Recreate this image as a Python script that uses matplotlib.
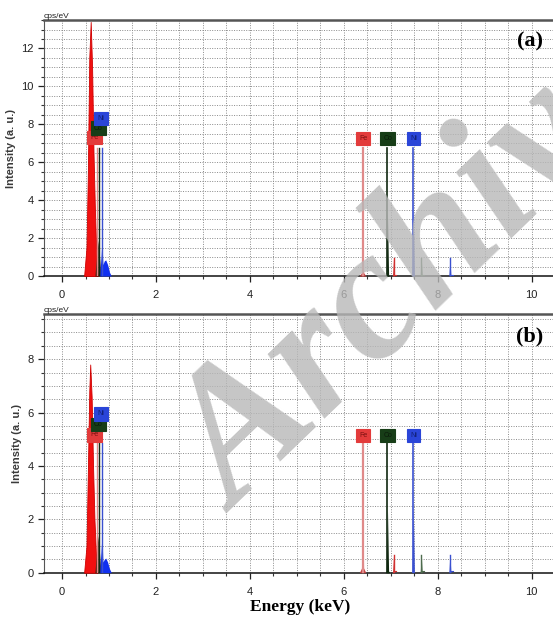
import numpy as np
import matplotlib.pyplot as plt
from matplotlib.ticker import MultipleLocator

# ---- data ----
elements = ["Fe", "Co", "Ni"]
box_colors = ["#e33b3b", "#173d17", "#2a45d8"]
line_colors = ["#e08a8a", "#102810", "#3a50d0"]
text_colors = ["#7a1010", "#0a1a0a", "#101e70"]

# L-line markers (keV) and K-line markers (keV)
l_marker_e = [0.74, 0.79, 0.845]
l_box_e = [0.69, 0.77, 0.83]
k_marker_e = [6.40, 6.93, 7.48]
k_box_e = [6.41, 6.94, 7.49]

# panel (a)
a_fe_l_e = [0.47, 0.52, 0.55, 0.58, 0.61, 0.64, 0.67, 0.70, 0.73, 0.76]
a_fe_l_i = [0.0, 1.5, 5.5, 11.5, 13.4, 11.0, 6.5, 3.5, 1.2, 0.0]
a_co_l_e = [0.70, 0.74, 0.77, 0.80, 0.83]
a_co_l_i = [0.0, 1.2, 1.9, 1.0, 0.0]
a_ni_l_e = [0.80, 0.83, 0.85, 0.87, 0.90, 0.93, 0.97, 1.01, 1.05]
a_ni_l_i = [0.0, 1.0, 1.9, 0.6, 0.8, 0.85, 0.6, 0.2, 0.0]
a_ka_h = [3.3, 3.3, 3.3]
a_kb_e = [7.06, 7.65, 8.26]
a_kb_h = [0.96, 0.96, 0.96]
a_l_box_y = [7.3, 7.8, 8.3]
a_k_box_y = 7.25
a_marker_top = 6.75

# panel (b)
b_fe_l_e = [0.47, 0.52, 0.55, 0.58, 0.60, 0.63, 0.66, 0.69, 0.72, 0.75]
b_fe_l_i = [0.0, 1.0, 3.8, 6.8, 7.8, 6.6, 4.0, 2.0, 0.8, 0.0]
b_co_l_e = [0.70, 0.74, 0.77, 0.80, 0.83]
b_co_l_i = [0.0, 0.9, 1.4, 0.7, 0.0]
b_ni_l_e = [0.80, 0.83, 0.85, 0.87, 0.90, 0.93, 0.97, 1.01, 1.05]
b_ni_l_i = [0.0, 0.8, 1.4, 0.4, 0.5, 0.55, 0.4, 0.15, 0.0]
b_ka_h = [2.4, 2.4, 2.4]
b_kb_e = [7.06, 7.65, 8.26]
b_kb_h = [0.66, 0.68, 0.68]
b_l_box_y = [5.16, 5.54, 5.95]
b_k_box_y = 5.15
b_marker_top = 4.85

xticks = [0, 2, 4, 6, 8, 10]

plt.rcParams["font.family"] = ["Liberation Sans", "DejaVu Sans"]


def peak(ax, c, h, w, color, z=3):
    ax.fill_between([c - w, c, c + w], [0, h, 0], color=color, lw=0, zorder=z)


def draw_panel(ax, ymax, yticks, fe_e, fe_i, co_e, co_i, ni_e, ni_i,
               ka_h, kb_e, kb_h, l_box_y, k_box_y, marker_top, tag):
    ax.set_xlim(-0.384, 10.51)
    ax.set_ylim(0, ymax)
    ax.set_xticks(xticks)
    ax.set_yticks(yticks)
    ax.xaxis.set_minor_locator(MultipleLocator(0.5))
    ax.yaxis.set_minor_locator(MultipleLocator(0.5))
    ax.grid(True, which="both", ls=(0, (1, 1.5)), color="#8a8a8a", lw=0.7)
    ax.set_axisbelow(True)
    ax.tick_params(which="major", length=4, width=0.9, labelsize=8,
                   colors="#222222", direction="out")
    ax.tick_params(which="minor", length=2.5, width=0.8, color="#333333",
                   direction="out")
    ax.tick_params(axis="x", pad=6)
    ax.spines["right"].set_visible(False)
    ax.spines["top"].set_color("#555555")
    ax.spines["top"].set_linewidth(1.8)
    ax.spines["left"].set_color("#555555")
    ax.spines["bottom"].set_color("#111111")
    ax.spines["bottom"].set_linewidth(1.1)

    # spectrum, low energy L lines
    ax.fill_between(fe_e, fe_i, color="#f01010", lw=0.6, edgecolor="#d00000", zorder=3)
    ax.fill_between(co_e, co_i, color="#2c2410", lw=0, alpha=0.85, zorder=4)
    ax.fill_between(ni_e, ni_i, color="#1030f0", lw=0, zorder=4)

    # K lines
    for c, h, col in zip(k_marker_e, ka_h, line_colors):
        peak(ax, c, h, 0.025, col)
    peak(ax, k_marker_e[0], 0.25, 0.07, "#c04040")
    peak(ax, k_marker_e[1], 0.12, 0.05, "#102810")
    for c, h, col in zip(kb_e, kb_h, ["#d03030", "#4d6b4d", "#3a50d0"]):
        peak(ax, c, h, 0.022, col)
        ax.plot([c, c], [0, h], color=col, lw=1.0, zorder=3)
        ax.plot([c, c + 0.06], [0.06, 0.06], color=col, lw=0.8, zorder=3)

    # element markers
    for i, el in enumerate(elements):
        ax.plot([l_marker_e[i]] * 2, [0, marker_top], color=line_colors[i],
                lw=1.0, zorder=5)
        ax.plot([k_marker_e[i]] * 2, [0, marker_top], color=line_colors[i],
                lw=1.6 if i == 0 else 1.2, zorder=5)
        for xe, ye in [(l_box_e[i], l_box_y[i]), (k_box_e[i], k_box_y)]:
            ax.text(xe, ye, el, fontsize=5, color=text_colors[i],
                    ha="center", va="center", zorder=6,
                    bbox=dict(boxstyle="square,pad=0.45", fc=box_colors[i],
                              ec=box_colors[i], lw=0.8))

    ax.text(-0.384, ymax, "cps/eV", transform=ax.transData, fontsize=6,
            ha="left", va="bottom", color="#222222")
    ax.text(10.25, ymax * 0.915, tag, fontsize=16, fontweight="bold",
            family="Liberation Serif", ha="right", va="center")
    ax.set_ylabel("Intensity (a. u.)", fontsize=8, fontweight="bold",
                  color="#3a3a3a", labelpad=4)


fig = plt.figure(figsize=(5.53, 6.18), dpi=100)
ax_a = fig.add_axes([0.0796, 0.5534, 0.925, 0.4142])
ax_b = fig.add_axes([0.0796, 0.0733, 0.925, 0.4181])

draw_panel(ax_a, 13.5, [0, 2, 4, 6, 8, 10, 12], a_fe_l_e, a_fe_l_i,
           a_co_l_e, a_co_l_i, a_ni_l_e, a_ni_l_i, a_ka_h, a_kb_e, a_kb_h,
           a_l_box_y, a_k_box_y, a_marker_top, "(a)")
draw_panel(ax_b, 9.68, [0, 2, 4, 6, 8], b_fe_l_e, b_fe_l_i,
           b_co_l_e, b_co_l_i, b_ni_l_e, b_ni_l_i, b_ka_h, b_kb_e, b_kb_h,
           b_l_box_y, b_k_box_y, b_marker_top, "(b)")

ax_b.set_xlabel("Energy (keV)", fontsize=12.5, fontweight="bold",
                family="Liberation Serif", labelpad=2)

# watermark
fig.text(0.428, 0.169, "Archive", fontsize=134, fontweight="bold",
         style="italic", family="Liberation Serif", color="#b8b8b8",
         alpha=0.8, rotation=44, rotation_mode="anchor",
         ha="left", va="baseline", zorder=10)

fig.savefig("out.png", dpi=100)
